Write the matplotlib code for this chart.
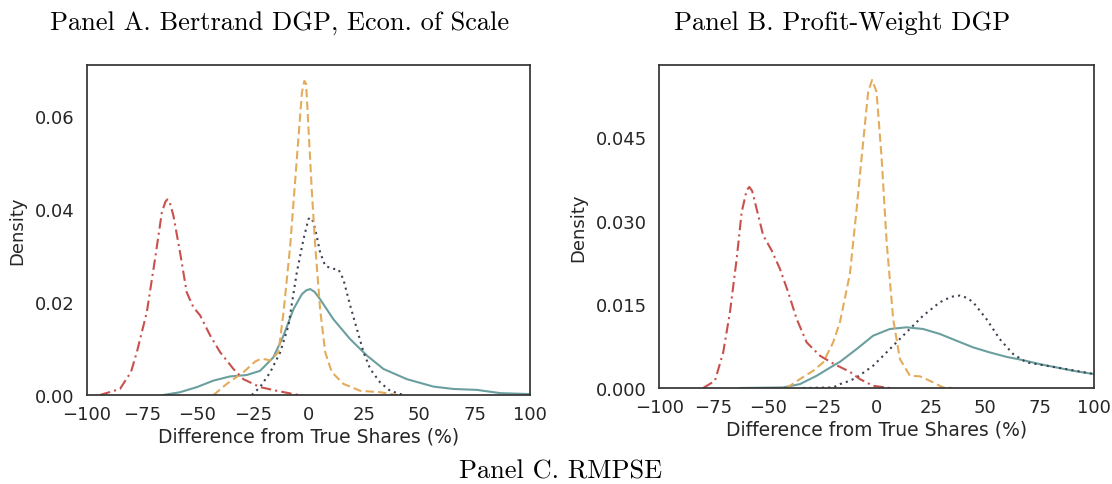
import numpy as np
import matplotlib
matplotlib.use("Agg")
import matplotlib.pyplot as plt

# Kernel density curves of the percentage difference from true shares,
# one set per data generating process.

# Panel A: Bertrand DGP, economies of scale
a_red_x = [-94, -85, -80, -77.4, -72.9, -69.2, -66.1, -64.5, -63.6, -62.5, -60.9, -57.9, -54.9,
           -51.9, -48.8, -44.3, -39.8, -33.8, -29.3, -21.8, -14.2, -6.7, -4]
a_red_y = [0.0, 0.0013, 0.0050, 0.0092, 0.0178, 0.0292, 0.0393, 0.0416, 0.0421, 0.0414, 0.0386,
           0.0307, 0.0221, 0.0189, 0.0171, 0.0128, 0.0092, 0.0056, 0.0034, 0.0017, 0.0009,
           0.0002, 0.0]

a_orange_x = [-42.8, -36.8, -29.3, -24.0, -21.8, -19.5, -17.2, -13.5, -11.2, -8.2, -5.2, -2.9,
              -1.8, -1.0, 0.0, 1.6, 3.1, 5.3, 7.6, 10.6, 15.8, 23.4, 32.4, 40]
a_orange_y = [0.0, 0.0024, 0.0049, 0.0072, 0.0077, 0.0077, 0.0074, 0.0092, 0.0178, 0.0321,
              0.0508, 0.0651, 0.0676, 0.0669, 0.0579, 0.0436, 0.0321, 0.0185, 0.0092, 0.0049,
              0.0024, 0.0009, 0.0006, 0.0]

a_teal_x = [-65.4, -57.9, -50.3, -42.8, -35.3, -27.8, -21.8, -15.8, -11.2, -6.7, -2.9, -1.0,
            0.8, 2.8, 5.3, 11.3, 18.9, 26.4, 33.9, 44.5, 56.5, 65.5, 76.1, 86.6, 100]
a_teal_y = [0.0, 0.0006, 0.0017, 0.0031, 0.0040, 0.0043, 0.0052, 0.0081, 0.0128, 0.0185,
            0.0217, 0.0225, 0.0228, 0.0222, 0.0206, 0.0163, 0.0120, 0.0085, 0.0056, 0.0034,
            0.0018, 0.0013, 0.0011, 0.0004, 0.0002]

a_dark_x = [-25.5, -21.8, -17.2, -12.7, -9.0, -5.2, -2.2, 0.0, 0.8, 1.8, 3.1, 5.3, 7.6, 10.6,
            13.6, 15.8, 18.9, 21.9, 24.9, 27.9, 32.4, 36.9, 42.9]
a_dark_y = [0.0, 0.0017, 0.0049, 0.0092, 0.0149, 0.0264, 0.0335, 0.0378, 0.0382, 0.0377,
            0.0357, 0.0307, 0.0278, 0.0272, 0.0270, 0.0249, 0.0192, 0.0142, 0.0092, 0.0056,
            0.0027, 0.0009, 0.0]

# Panel B: profit-weight DGP
b_red_x = [-79.8, -74.4, -70.6, -67.5, -64.4, -62.1, -59.8, -58.6, -57.3, -56.0, -52.2, -48.3,
           -44.5, -40.7, -36.8, -32.2, -26.1, -20.0, -12.3, -7.7, -1.6, 6.1]
b_red_y = [0.0, 0.0013, 0.0064, 0.0136, 0.0232, 0.0316, 0.0355, 0.0361, 0.0354, 0.0334,
           0.0274, 0.0247, 0.0214, 0.0172, 0.0124, 0.0082, 0.0058, 0.0044, 0.0029, 0.0016,
           0.0004, 0.0]

b_orange_x = [-41.4, -35.3, -29.2, -24.6, -20.0, -16.9, -12.3, -9.2, -6.2, -3.9, -2.1, -0.05,
              2.3, 4.6, 7.6, 10.7, 15.3, 19.9, 24.5, 30.6, 35]
b_orange_y = [0.0, 0.0016, 0.0031, 0.0046, 0.0082, 0.0118, 0.0205, 0.0322, 0.0442, 0.0532,
              0.0553, 0.0532, 0.0412, 0.0262, 0.0124, 0.0052, 0.0022, 0.0021, 0.0013, 0.0001,
              0.0]

b_teal_x = [-62.9, -43.0, -35.3, -27.6, -20.0, -16.9, -9.2, -1.6, 6.1, 13.7, 21.4, 29.1, 36.7,
            44.4, 52.0, 59.7, 67.4, 75.0, 82.7, 90.3, 100]
b_teal_y = [0.0, 0.0001, 0.0007, 0.0022, 0.0040, 0.0047, 0.0070, 0.0094, 0.0106, 0.0109,
            0.0106, 0.0097, 0.0085, 0.0073, 0.0064, 0.0056, 0.0050, 0.0043, 0.0037, 0.0031,
            0.0025]

b_dark_x = [-33.8, -20.0, -16.9, -12.3, -9.2, -1.6, 6.1, 13.7, 21.4, 29.1, 34.4, 38.3, 41.5,
            44.4, 50.5, 56.6, 62.8, 68.9, 78.1, 87.3, 100]
b_dark_y = [0.0, 0.0001, 0.0007, 0.0013, 0.0019, 0.0040, 0.0070, 0.0100, 0.0130, 0.0154,
            0.0164, 0.0166, 0.0162, 0.0154, 0.0124, 0.0088, 0.0061, 0.0046, 0.0040, 0.0034,
            0.0025]

a_yticks = [0.0, 0.02, 0.04, 0.06]
a_yticklabels = ["0.00", "0.02", "0.04", "0.06"]
b_yticks = [0.0, 0.015, 0.030, 0.045]
b_yticklabels = ["0.000", "0.015", "0.030", "0.045"]
xticks = [-100, -75, -50, -25, 0, 25, 50, 75, 100]

red = "#c9504c"
orange = "#e3ac5c"
teal = "#6b9f9f"
dark = "#3b4252"

plt.rcParams["font.family"] = "DejaVu Sans"
plt.rcParams["axes.edgecolor"] = "#333333"
plt.rcParams["axes.linewidth"] = 1.25
plt.rcParams["text.color"] = "#262626"
plt.rcParams["axes.labelcolor"] = "#262626"
plt.rcParams["xtick.color"] = "#262626"
plt.rcParams["ytick.color"] = "#262626"

fig = plt.figure(figsize=(11.12, 4.85), dpi=100)
ax1 = fig.add_axes([0.078, 0.1835, 0.3986, 0.6804])
ax2 = fig.add_axes([0.5929, 0.1979, 0.3909, 0.666])


def draw_panel(ax, red_xy, orange_xy, teal_xy, dark_xy, ymax, yticks, yticklabels):
    ax.plot(*teal_xy, color=teal, lw=1.5, ls="-")
    ax.plot(*dark_xy, color=dark, lw=1.5, ls=(0, (1, 2)))
    ax.plot(*orange_xy, color=orange, lw=1.5, ls=(0, (4, 2)))
    ax.plot(*red_xy, color=red, lw=1.5, ls=(0, (5, 2, 1, 2)))
    ax.set_xlim(-100, 100)
    ax.set_ylim(0, ymax)
    ax.set_xticks(xticks)
    ax.set_yticks(yticks)
    ax.set_yticklabels(yticklabels)
    ax.tick_params(length=0, labelsize=13)
    ax.tick_params(axis="x", pad=7)
    ax.tick_params(axis="y", pad=9)
    ax.set_xlabel("Difference from True Shares (%)", fontsize=13.5, labelpad=3)
    ax.set_ylabel("Density", fontsize=13, labelpad=6)


draw_panel(ax1, (a_red_x, a_red_y), (a_orange_x, a_orange_y), (a_teal_x, a_teal_y),
           (a_dark_x, a_dark_y), 0.071, a_yticks, a_yticklabels)
draw_panel(ax2, (b_red_x, b_red_y), (b_orange_x, b_orange_y), (b_teal_x, b_teal_y),
           (b_dark_x, b_dark_y), 0.058, b_yticks, b_yticklabels)

fig.text(0.251, 0.952, "Panel A. Bertrand DGP, Econ. of Scale", family="cmr10",
         fontsize=19, ha="center", va="center", color="black")
fig.text(0.757, 0.952, "Panel B. Profit-Weight DGP", family="cmr10",
         fontsize=19, ha="center", va="center", color="black")
fig.text(0.5045, 0.027, "Panel C. RMPSE", family="cmr10",
         fontsize=19, ha="center", va="center", color="black")

fig.savefig("out.png", dpi=100)
